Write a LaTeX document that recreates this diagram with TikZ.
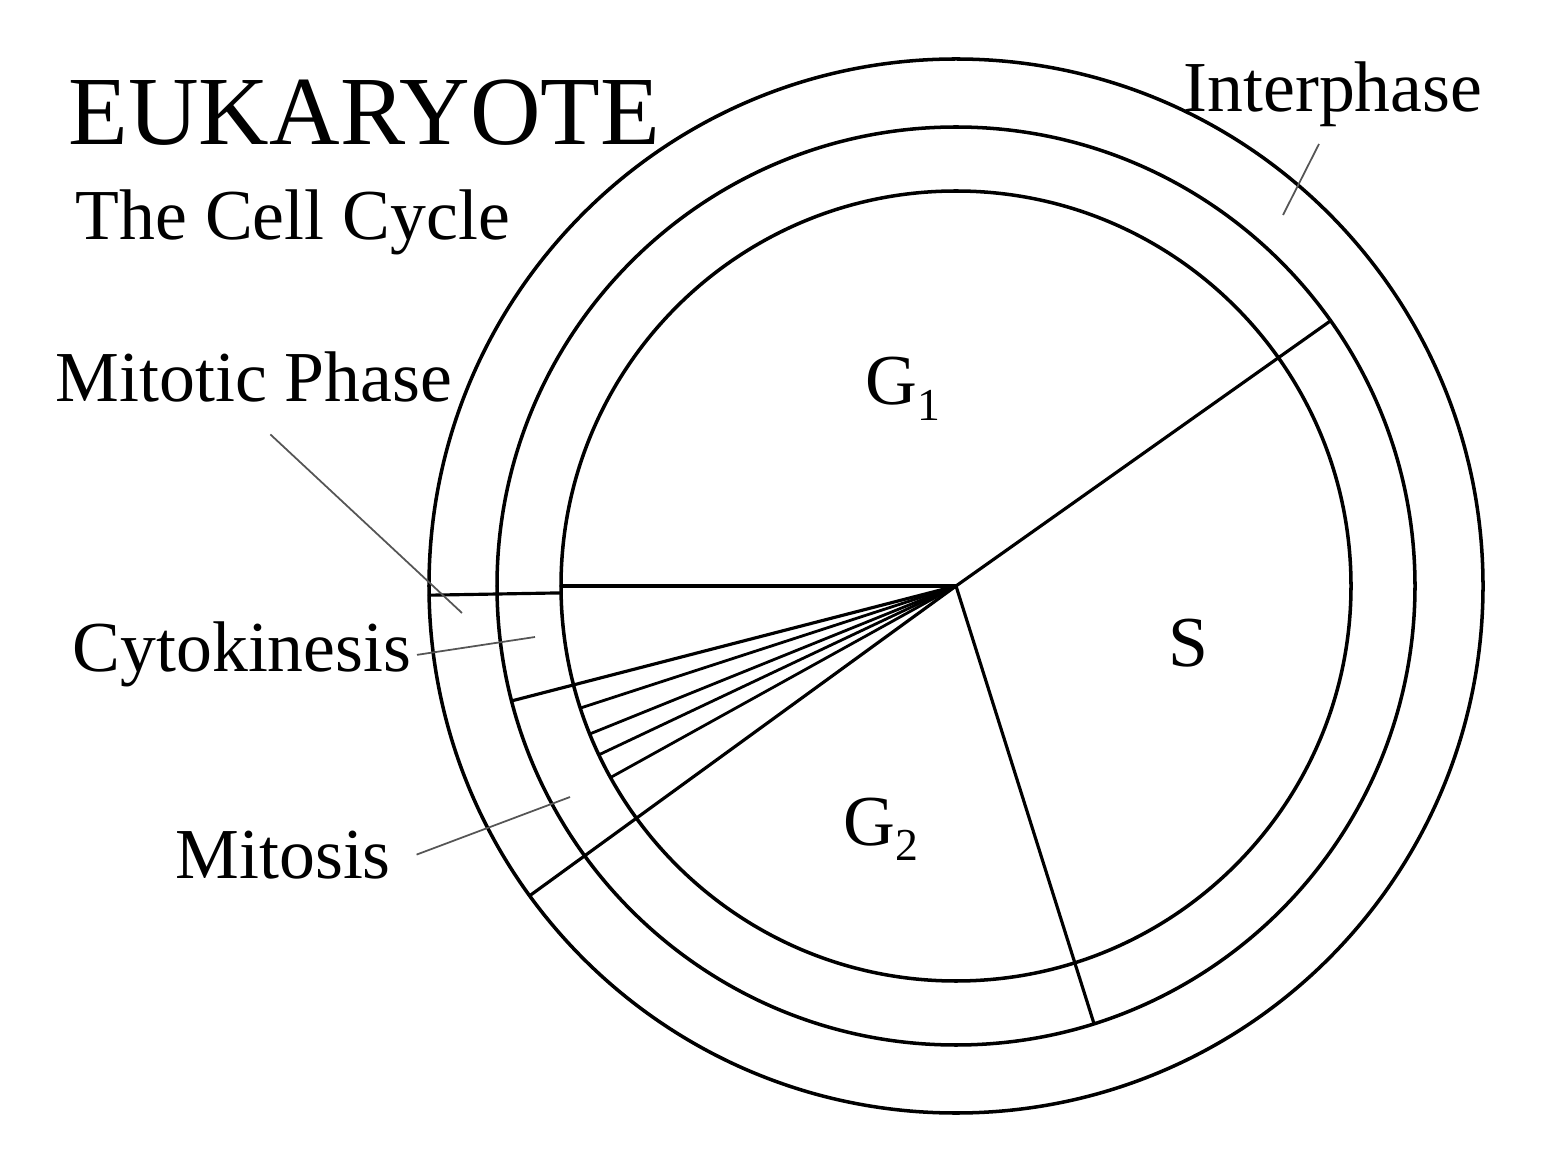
\documentclass[tikz,border=0pt]{standalone}
\usepackage{fontspec}
\setmainfont{Liberation Serif}
\usepackage{tkz-euclide}
\definecolor{LeaderClr}{RGB}{85,85,85}
\tikzset{
  lbl/.style={font=\fontsize{20.4}{24}\selectfont,inner sep=0pt,anchor=base west},
  title/.style={font=\fontsize{27.8}{30}\selectfont,inner sep=0pt,anchor=base west},
  leader/.style={color=LeaderClr,line width=0.5pt}
}
\newcommand{\PhaseG}[1]{G\raisebox{-0.21em}{\fontsize{13}{14}\selectfont #1}}

\begin{document}
\begin{tikzpicture}
\useasboundingbox (0,0) rectangle (15.56,11.60);
\tkzSetUpLine[line width=0.9pt,color=black]

\tkzDefPoints{9.56/5.74/O}
\tkzDefShiftPoint[O](0:3.95){R1}
\tkzDefShiftPoint[O](0:4.59){R2}
\tkzDefShiftPoint[O](0:5.27){R3}

\tkzDefShiftPoint[O](35.3:4.59){GS}
\tkzDefShiftPoint[O](-72.5:4.59){SG}
\tkzDefShiftPoint[O](180:3.95){Ma}
\tkzDefShiftPoint[O](181:3.95){Mb}
\tkzDefShiftPoint[O](181:5.27){Mc}
\tkzDefShiftPoint[O](194.5:4.59){CM}
\tkzDefShiftPoint[O](216:5.27){MG}

\tkzDrawCircles[color=black,line width=1pt](O,R1 O,R2 O,R3)
\tkzDrawSegments(O,GS O,SG O,Ma Mb,Mc O,CM O,MG)
\foreach \a in {198,202,205.3,209}{
  \tkzDefShiftPoint[O](\a:3.95){f}
  \tkzDrawSegment[line width=0.8pt](O,f)
}

\node[title] (eukaryote) at (0.68,10.15) {EUKARYOTE};
\node[lbl] (cellcycle) at (0.75,9.20) {The Cell Cycle};
\node[lbl] (interphase) at (11.83,10.48) {Interphase};
\node[lbl] (mitotic) at (0.55,7.58) {Mitotic Phase};
\node[lbl] (cytokinesis) at (0.72,4.88) {Cytokinesis};
\node[lbl] (mitosis) at (1.75,2.82) {Mitosis};
\node[lbl] (gone) at (8.65,7.55) {\PhaseG{1}};
\node[lbl] (sphase) at (11.68,4.93) {S};
\node[lbl] (gtwo) at (8.43,3.15) {\PhaseG{2}};

\tkzDefPoints{12.83/9.45/iT,4.62/5.47/pT,5.35/5.23/cT,5.70/3.63/mT}
\draw[leader] ([shift={(-0.14,-0.16)}]interphase.south) -- (iT);
\draw[leader] ([shift={(0.165,-0.31)}]mitotic.south) -- (pT);
\draw[leader] ([xshift=0.05cm]cytokinesis.east) -- (cT);
\draw[leader] ([xshift=0.25cm]mitosis.east) -- (mT);
\end{tikzpicture}
\end{document}
